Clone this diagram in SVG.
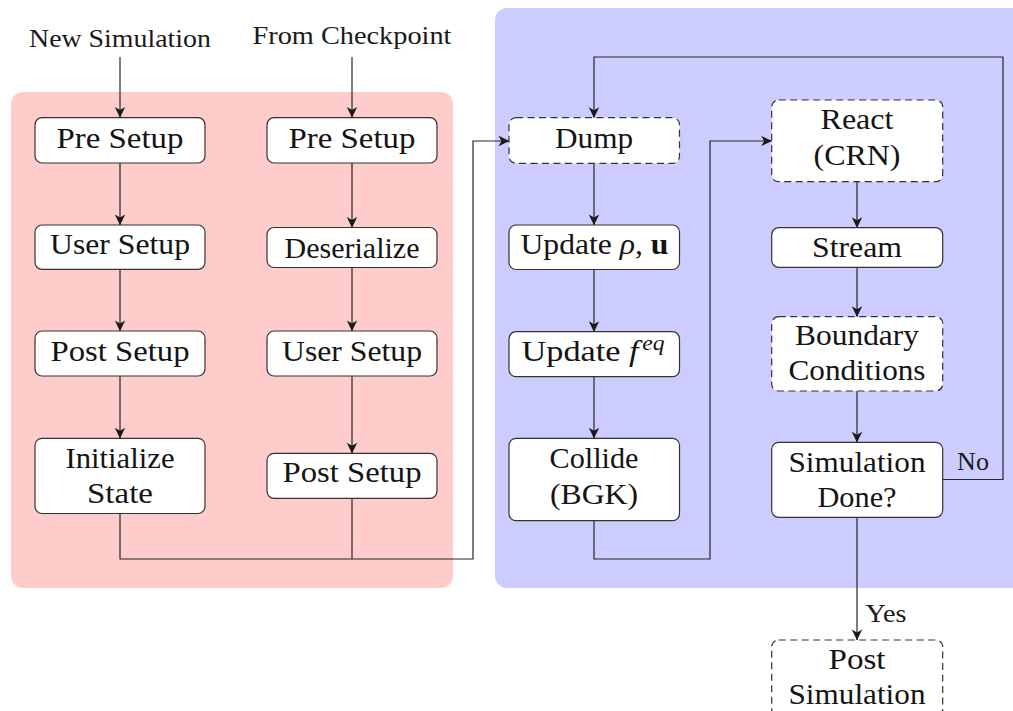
<svg xmlns="http://www.w3.org/2000/svg" width="1013" height="711" viewBox="0 0 1013 711">
<style>
  .panel-red { fill: #ffcccc; }
  .panel-blue { fill: #ccccff; }
  .box { fill: #ffffff; stroke: #333333; stroke-width: 1.2; }
  .dash { stroke-dasharray: 7 4.5; }
  .t { font-family: "Liberation Serif", "Times New Roman", serif; font-size: 29px; fill: #141414; text-anchor: middle; }
  .lbl { font-family: "Liberation Serif", "Times New Roman", serif; font-size: 26px; fill: #1a1a1a; text-anchor: middle; }
  .conn { fill: none; stroke: #262626; stroke-width: 1.2; }
  .arr { marker-end: url(#ah); }
</style>
<defs>
  <marker id="ah" viewBox="-12 -6 13 12" refX="0" refY="0" markerWidth="13" markerHeight="12" markerUnits="userSpaceOnUse" orient="auto">
    <path d="M0.5,0 C-3,-1.5 -7,-3.5 -10.5,-5.2 L-7.5,0 L-10.5,5.2 C-7,3.5 -3,1.5 0.5,0 Z" fill="#1a1a1a"/>
  </marker>
</defs>

<g id="panels">
  <rect class="panel-red" x="11" y="92" width="442" height="496" rx="12"/>
  <rect class="panel-blue" x="495" y="8" width="540" height="580" rx="12"/>
</g>

<g id="connectors">
  <path class="conn arr" d="M120,57 V117.5"/>
  <path class="conn arr" d="M352,57 V117.5"/>
  <path class="conn arr" d="M120,163 V225"/>
  <path class="conn arr" d="M120,269.3 V331"/>
  <path class="conn arr" d="M120,376 V438.3"/>
  <path class="conn arr" d="M352,163 V227.5"/>
  <path class="conn arr" d="M352,267.5 V331"/>
  <path class="conn arr" d="M352,376 V453.3"/>
  <path class="conn arr" d="M120,513.5 V559 H473 V141 H509"/>
  <path class="conn" d="M352,498.3 V559"/>
  <path class="conn arr" d="M594,163.3 V225"/>
  <path class="conn arr" d="M594,269.5 V331.7"/>
  <path class="conn arr" d="M594,376.7 V438.3"/>
  <path class="conn arr" d="M594,520.7 V559 H710 V141 H771.7"/>
  <path class="conn arr" d="M857,181.7 V227.7"/>
  <path class="conn arr" d="M857,267.3 V316.7"/>
  <path class="conn arr" d="M857,391 V442.3"/>
  <path class="conn arr" d="M942.7,479.5 H1003 V57 H594 V117.7"/>
  <path class="conn arr" d="M857,517.3 V640"/>
  <text class="lbl" x="973" y="469.5">No</text>
  <text class="lbl" x="886" y="622" textLength="41" lengthAdjust="spacingAndGlyphs">Yes</text>
</g>

<g id="label-new">
  <text class="lbl" x="120" y="46.7" textLength="182" lengthAdjust="spacingAndGlyphs">New Simulation</text>
</g>
<g id="label-checkpoint">
  <text class="lbl" x="352" y="44.3" textLength="199" lengthAdjust="spacingAndGlyphs">From Checkpoint</text>
</g>

<g id="pre-setup-1">
  <rect class="box" x="35" y="117.7" width="170" height="45.3" rx="7"/>
  <text class="t" x="120" y="148" textLength="127" lengthAdjust="spacingAndGlyphs">Pre Setup</text>
</g>
<g id="user-setup-1">
  <rect class="box" x="35" y="225" width="170" height="44.3" rx="7"/>
  <text class="t" x="120" y="254" textLength="140" lengthAdjust="spacingAndGlyphs">User Setup</text>
</g>
<g id="post-setup-1">
  <rect class="box" x="35" y="331" width="170" height="45" rx="7"/>
  <text class="t" x="120" y="360.5" textLength="139" lengthAdjust="spacingAndGlyphs">Post Setup</text>
</g>
<g id="initialize-state">
  <rect class="box" x="35" y="438.3" width="170" height="75.2" rx="7"/>
  <text class="t" x="120" y="467.5" textLength="109" lengthAdjust="spacingAndGlyphs">Initialize</text>
  <text class="t" x="120" y="503.3" textLength="66" lengthAdjust="spacingAndGlyphs">State</text>
</g>

<g id="pre-setup-2">
  <rect class="box" x="267" y="117.7" width="170" height="45.3" rx="7"/>
  <text class="t" x="352" y="148" textLength="127" lengthAdjust="spacingAndGlyphs">Pre Setup</text>
</g>
<g id="deserialize">
  <rect class="box" x="267" y="227.5" width="170" height="40" rx="7"/>
  <text class="t" x="352" y="257.5" textLength="135" lengthAdjust="spacingAndGlyphs">Deserialize</text>
</g>
<g id="user-setup-2">
  <rect class="box" x="267" y="331" width="170" height="45" rx="7"/>
  <text class="t" x="352" y="360.5" textLength="140" lengthAdjust="spacingAndGlyphs">User Setup</text>
</g>
<g id="post-setup-2">
  <rect class="box" x="267" y="453.3" width="170" height="45" rx="7"/>
  <text class="t" x="352" y="482.3" textLength="139" lengthAdjust="spacingAndGlyphs">Post Setup</text>
</g>

<g id="dump">
  <rect class="box dash" x="509" y="117.7" width="170.5" height="45.6" rx="7"/>
  <text class="t" x="594" y="147.8" textLength="78" lengthAdjust="spacingAndGlyphs">Dump</text>
</g>
<g id="update-rho-u">
  <rect class="box" x="509" y="225" width="170.5" height="44.5" rx="7"/>
  <text class="t" x="594.5" y="254.3" textLength="148" lengthAdjust="spacingAndGlyphs">Update <tspan font-style="italic">ρ</tspan>, <tspan font-weight="bold">u</tspan></text>
</g>
<g id="update-feq">
  <rect class="box" x="509" y="331.7" width="170.5" height="45" rx="7"/>
  <text class="t" x="593" y="360.5" textLength="143" lengthAdjust="spacingAndGlyphs">Update <tspan font-style="italic">f</tspan><tspan font-style="italic" font-size="20" dx="3" dy="-11">eq</tspan></text>
</g>
<g id="collide">
  <rect class="box" x="509" y="438.3" width="170.5" height="82.4" rx="7"/>
  <text class="t" x="594" y="468.3" textLength="89" lengthAdjust="spacingAndGlyphs">Collide</text>
  <text class="t" x="594" y="503.8" textLength="88" lengthAdjust="spacingAndGlyphs">(BGK)</text>
</g>

<g id="react">
  <rect class="box dash" x="771.7" y="100" width="171" height="81.7" rx="7"/>
  <text class="t" x="857" y="129.3" textLength="73" lengthAdjust="spacingAndGlyphs">React</text>
  <text class="t" x="857" y="164.5" textLength="87" lengthAdjust="spacingAndGlyphs">(CRN)</text>
</g>
<g id="stream">
  <rect class="box" x="771.7" y="227.7" width="171" height="39.6" rx="7"/>
  <text class="t" x="857" y="257.3" textLength="90" lengthAdjust="spacingAndGlyphs">Stream</text>
</g>
<g id="boundary-conditions">
  <rect class="box dash" x="771.7" y="316.7" width="171" height="74.3" rx="7"/>
  <text class="t" x="857" y="345" textLength="124" lengthAdjust="spacingAndGlyphs">Boundary</text>
  <text class="t" x="857" y="379.5" textLength="137" lengthAdjust="spacingAndGlyphs">Conditions</text>
</g>
<g id="simulation-done">
  <rect class="box" x="771.7" y="442.3" width="171" height="75" rx="7"/>
  <text class="t" x="857" y="471.8" textLength="137" lengthAdjust="spacingAndGlyphs">Simulation</text>
  <text class="t" x="857" y="507.3" textLength="79" lengthAdjust="spacingAndGlyphs">Done?</text>
</g>
<g id="post-simulation">
  <rect class="box dash" x="771.7" y="640" width="171" height="76" rx="7"/>
  <text class="t" x="857" y="669" textLength="57" lengthAdjust="spacingAndGlyphs">Post</text>
  <text class="t" x="857" y="703.5" textLength="137" lengthAdjust="spacingAndGlyphs">Simulation</text>
</g>
</svg>
